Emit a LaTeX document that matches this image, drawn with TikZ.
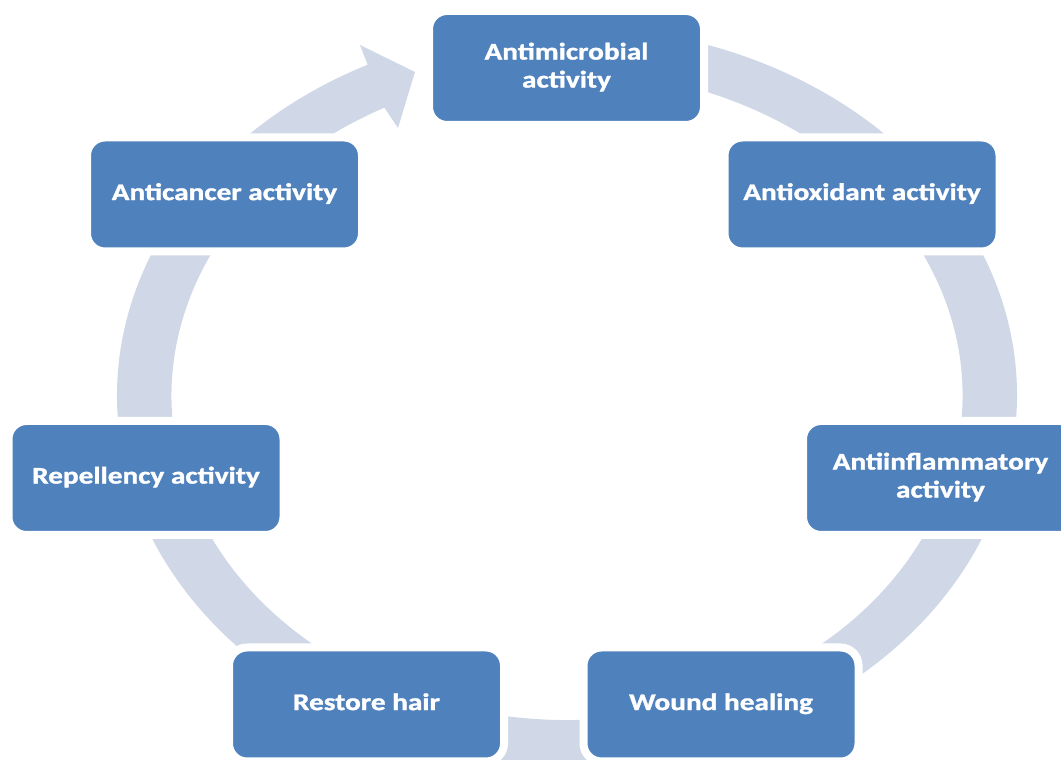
\documentclass[tikz,border=0pt]{standalone}
\usepackage{fontspec}
\setmainfont[FakeBold=1.2]{Carlito}
\usepackage{graphicx}
\definecolor{boxblue}{HTML}{4F81BD}
\definecolor{ringc}{HTML}{D0D8E8}
\newcommand{\lbl}[1]{\scalebox{1.22}[1]{\begin{tabular}{@{}c@{}}#1\end{tabular}}}
\newcommand{\lblone}[1]{\raisebox{-3pt}{\lbl{#1}}}
\begin{document}
\begin{tikzpicture}[x=1pt,y=1pt,
  box/.style={fill=boxblue, draw=white, line width=8pt, rounded corners=18pt,
    minimum width=275pt, minimum height=114pt, inner sep=0pt, text=white,
    font=\fontsize{24}{28}\selectfont\bfseries}]
\useasboundingbox (0,0) rectangle (1061,760);
\clip (0,0) rectangle (1061,760);
% circular arrow ring
\fill[ringc] (567,364.5) ++(85:450 and 369)
  arc[start angle=85, end angle=-243.7, x radius=450, y radius=369]
  -- (360,715) -- (415,688) -- (398,632) -- (384.4,652.3)
  arc[start angle=-242.5, end angle=85, x radius=395.5, y radius=324.5]
  -- cycle;
% boxes
\node[box] (n1) at (566.5,692) {\lbl{Antimicrobial\\activity}};
\node[box] (n2) at (862,565.5) {\lblone{Antioxidant activity}};
\node[box] (n3) at (940.5,282) {\lbl{Antiinflammatory\\activity}};
\node[box] (n4) at (721,55.5) {\lblone{Wound healing}};
\node[box] (n5) at (366.5,55.5) {\lblone{Restore hair}};
\node[box] (n6) at (146,282) {\lblone{Repellency activity}};
\node[box] (n7) at (224.5,565.5) {\lblone{Anticancer activity}};
\end{tikzpicture}
\end{document}
